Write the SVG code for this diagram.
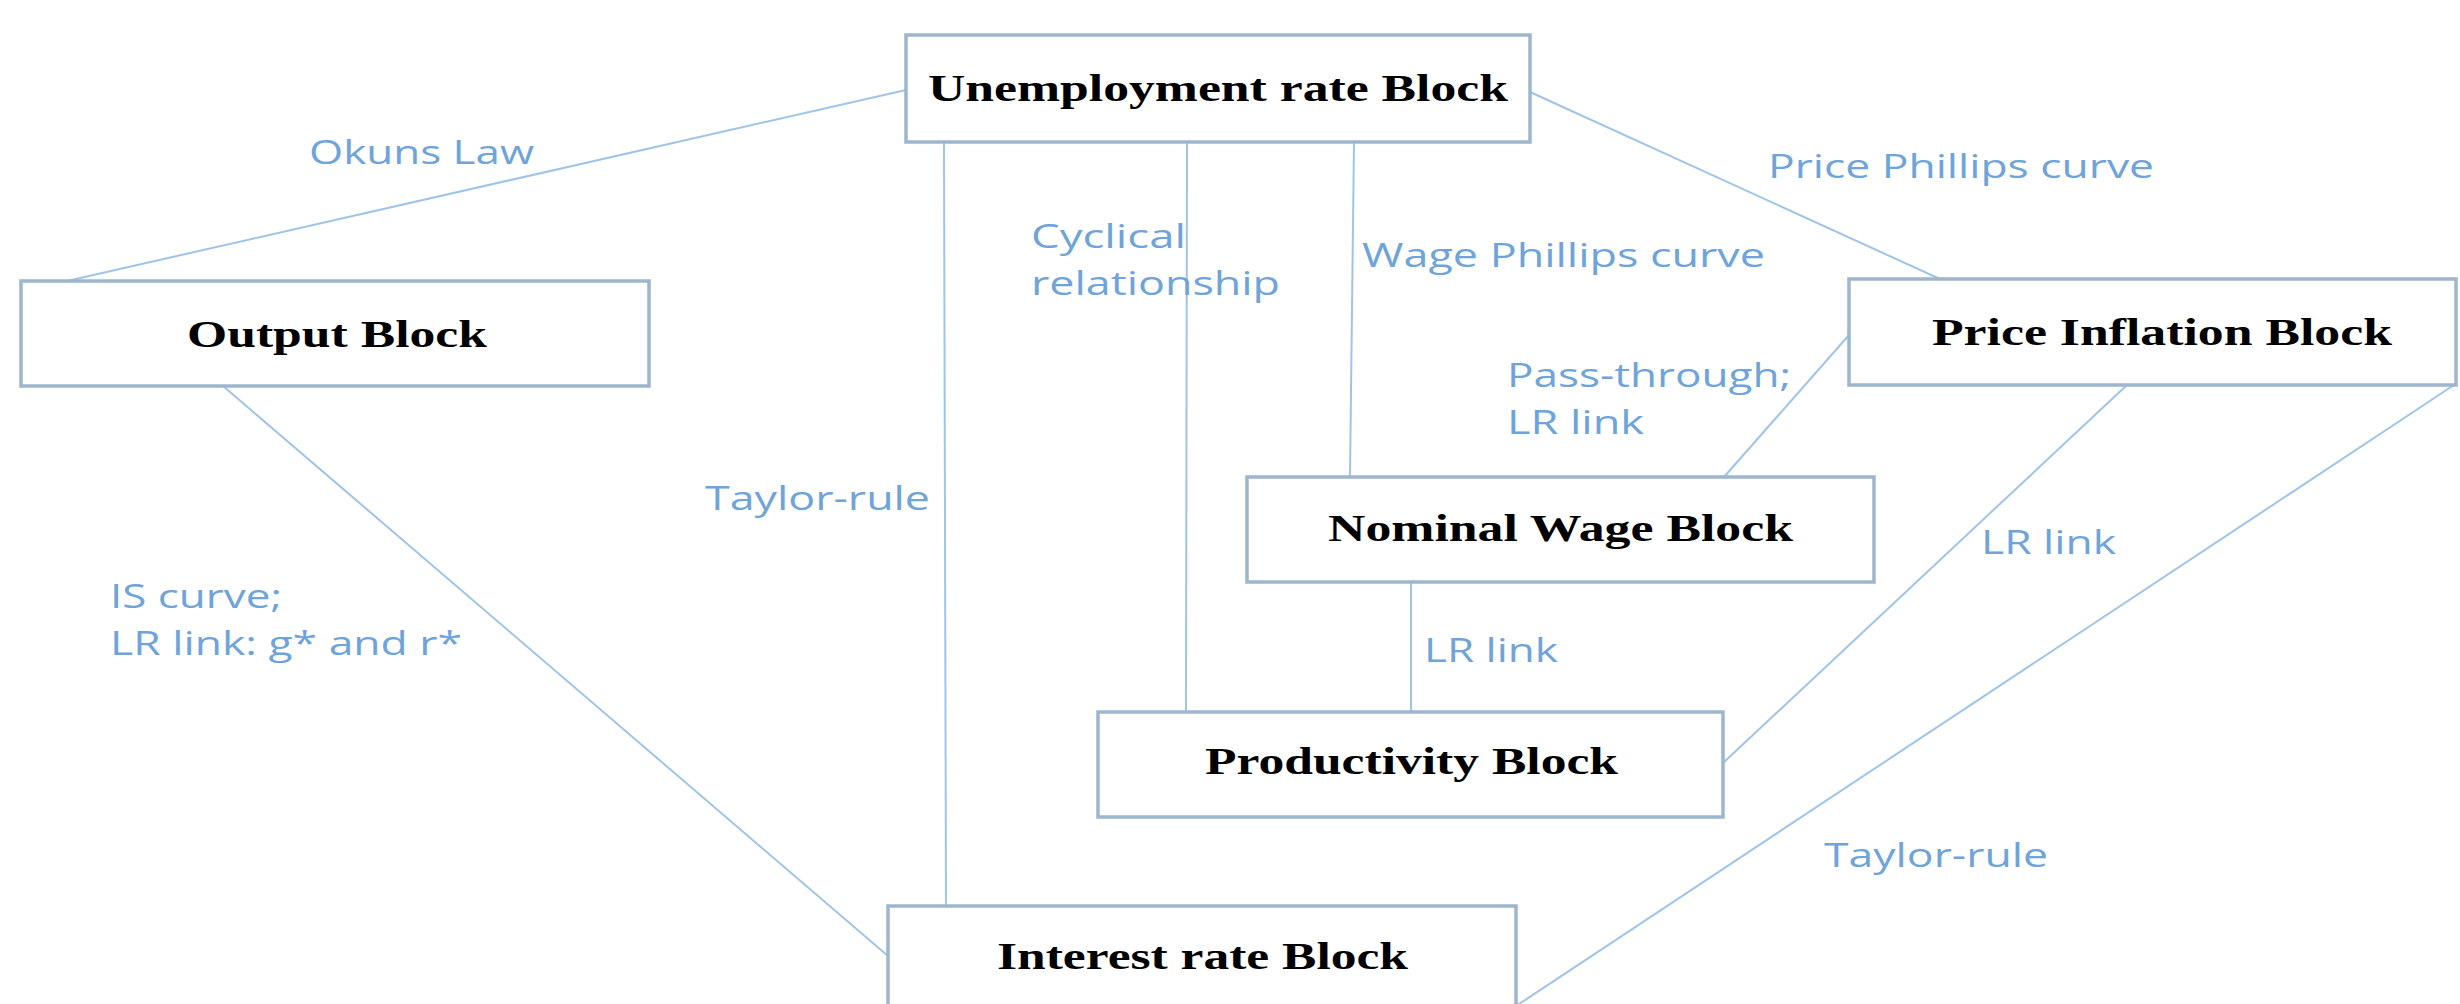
<svg xmlns="http://www.w3.org/2000/svg" width="2460" height="1004" viewBox="0 0 2460 1004">
  <style>
    .box { fill: #ffffff; stroke: #9db5cd; stroke-width: 3.5; }
    .title { font-family: "Liberation Serif", "Times New Roman", serif; font-weight: bold; font-size: 38px; fill: #000000; }
    .link { stroke: #9fc4e8; stroke-width: 2; fill: none; }
    .lbl { font-family: "Open Sans", "Liberation Sans", sans-serif; font-size: 32px; fill: #6fa4da; }
  </style>
  <rect width="2460" height="1004" fill="#ffffff"/>

  <!-- relationships between blocks -->
  <g id="connectors">
    <line class="link" x1="906" y1="90" x2="67" y2="281"/>
    <line class="link" x1="944" y1="142" x2="946" y2="906"/>
    <line class="link" x1="1187" y1="142" x2="1186" y2="712"/>
    <line class="link" x1="1354" y1="142" x2="1350" y2="477"/>
    <line class="link" x1="1530" y1="92" x2="1940" y2="279"/>
    <line class="link" x1="1849" y1="335" x2="1724" y2="477"/>
    <line class="link" x1="223" y1="386" x2="888" y2="956"/>
    <line class="link" x1="1411" y1="582" x2="1411" y2="712"/>
    <line class="link" x1="2127" y1="385" x2="1723" y2="763"/>
    <line class="link" x1="2454" y1="385" x2="1516" y2="1006"/>

    <text class="lbl" x="309" y="164" textLength="225" lengthAdjust="spacingAndGlyphs">Okuns Law</text>
    <text class="lbl" x="1031" y="248" textLength="155" lengthAdjust="spacingAndGlyphs">Cyclical</text>
    <text class="lbl" x="1031" y="295" textLength="249" lengthAdjust="spacingAndGlyphs">relationship</text>
    <text class="lbl" x="1362" y="267" textLength="403" lengthAdjust="spacingAndGlyphs">Wage Phillips curve</text>
    <text class="lbl" x="1768" y="178" textLength="386" lengthAdjust="spacingAndGlyphs">Price Phillips curve</text>
    <text class="lbl" x="1507" y="387" textLength="284" lengthAdjust="spacingAndGlyphs">Pass-through;</text>
    <text class="lbl" x="1507" y="434" textLength="137" lengthAdjust="spacingAndGlyphs">LR link</text>
    <text class="lbl" x="705" y="510" textLength="225" lengthAdjust="spacingAndGlyphs">Taylor-rule</text>
    <text class="lbl" x="110" y="608" textLength="172" lengthAdjust="spacingAndGlyphs">IS curve;</text>
    <text class="lbl" x="110" y="655" textLength="352" lengthAdjust="spacingAndGlyphs">LR link: g* and r*</text>
    <text class="lbl" x="1981" y="554" textLength="135" lengthAdjust="spacingAndGlyphs">LR link</text>
    <text class="lbl" x="1424" y="662" textLength="134" lengthAdjust="spacingAndGlyphs">LR link</text>
    <text class="lbl" x="1824" y="867" textLength="224" lengthAdjust="spacingAndGlyphs">Taylor-rule</text>
  </g>

  <g id="unemployment">
    <rect class="box" x="906" y="35" width="624" height="107"/>
    <text class="title" x="928" y="101" textLength="580" lengthAdjust="spacingAndGlyphs">Unemployment rate Block</text>
  </g>
  <g id="output">
    <rect class="box" x="21" y="281" width="628" height="105"/>
    <text class="title" x="187" y="347" textLength="300" lengthAdjust="spacingAndGlyphs">Output Block</text>
  </g>
  <g id="price-inflation">
    <rect class="box" x="1849" y="279" width="607" height="106"/>
    <text class="title" x="1932" y="345" textLength="460" lengthAdjust="spacingAndGlyphs">Price Inflation Block</text>
  </g>
  <g id="nominal-wage">
    <rect class="box" x="1247" y="477" width="627" height="105"/>
    <text class="title" x="1328" y="541" textLength="465" lengthAdjust="spacingAndGlyphs">Nominal Wage Block</text>
  </g>
  <g id="productivity">
    <rect class="box" x="1098" y="712" width="625" height="105"/>
    <text class="title" x="1205" y="774" textLength="413" lengthAdjust="spacingAndGlyphs">Productivity Block</text>
  </g>
  <g id="interest-rate">
    <rect class="box" x="888" y="906" width="628" height="110"/>
    <text class="title" x="997" y="969" textLength="411" lengthAdjust="spacingAndGlyphs">Interest rate Block</text>
  </g>
</svg>
